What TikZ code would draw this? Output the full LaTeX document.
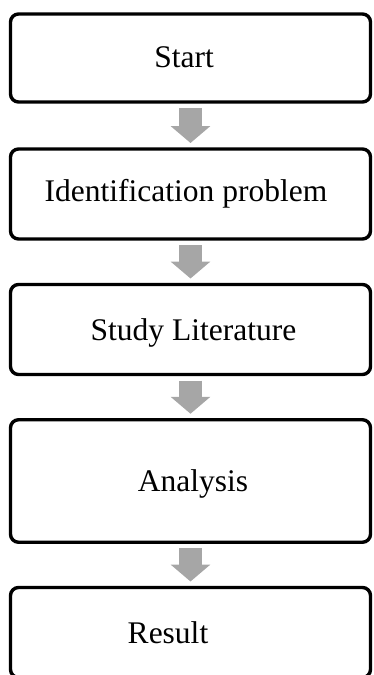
\documentclass[tikz,border=0pt]{standalone}
\usepackage{fontspec}
\setmainfont{Liberation Serif}
\usetikzlibrary{arrows.meta}

\definecolor{arrowgray}{HTML}{A6A6A6}
\tikzset{
	stepbox/.style={draw, line width=3.4pt, rounded corners=8pt, minimum width=360pt, outer sep=0pt, inner sep=0pt},
	steptext/.style={anchor=base, inner sep=0pt, font=\fontsize{31.5}{36}\selectfont},
	blockarrow/.style={arrowgray, line width=23pt, -{Triangle[length=17pt, width=39pt]}}
}

\begin{document}
\begin{tikzpicture}[x=1pt, y=-1pt]
	\useasboundingbox (0,0) rectangle (373,675);
	\foreach \id/\cy/\bh/\tx/\ty/\txt in {
		start/58/88/184/67.3/Start,
		ident/194/90/186/201/Identification problem,
		study/329.5/90/193.5/340/Study Literature,
		analysis/481/122.5/193/491.7/Analysis,
		result/632.5/90/168/643.3/Result
  } {
	\node [stepbox, minimum height=\bh pt] (\id) at (190.5, \cy) {};
	\node [steptext] (\id-text) at (\tx, \ty) {\txt};
  }
	\foreach \from/\to in {start/ident, ident/study, study/analysis, analysis/result}
	\draw [blockarrow] ([yshift=-6pt]\from.south) -- ([yshift=6pt]\to.north);
\end{tikzpicture}
\end{document}
